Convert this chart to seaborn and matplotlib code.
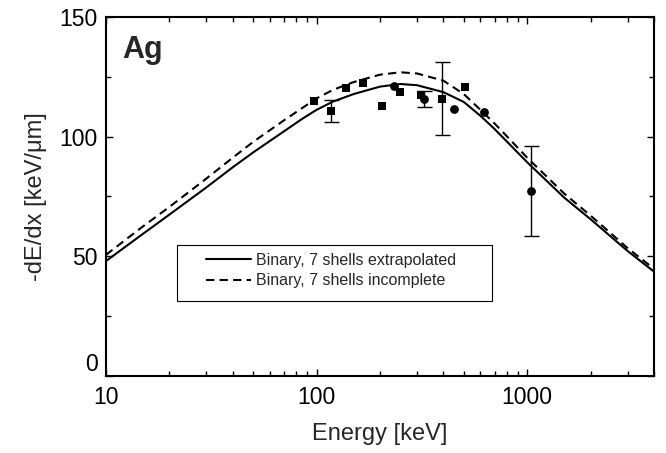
import matplotlib
matplotlib.use("Agg")
import matplotlib.pyplot as plt
import seaborn as sns
import pandas as pd
import numpy as np
from matplotlib.ticker import LogLocator, FixedLocator, NullFormatter
from matplotlib.patches import Rectangle

# Curves (energy keV, stopping power keV/um)
solid_x = [10, 15, 20, 30, 40, 50, 70, 85, 100, 120, 150, 200, 250, 300, 400, 500, 600, 700, 800, 1000, 1500, 2000, 3000, 4000]
solid_y = [48, 59.4, 67.4, 78.8, 87.2, 93.4, 102.2, 107.3, 111.2, 114.7, 117.8, 120.9, 122, 121.5, 118.6, 114.5, 108.7, 103.2, 98, 89.3, 74.5, 65.5, 52.2, 43.6]
dash_x = [10, 15, 20, 30, 40, 50, 70, 85, 100, 120, 150, 200, 250, 300, 400, 500, 600, 700, 800, 1000, 1500, 2000, 3000, 4000]
dash_y = [50.6, 62.5, 70.6, 82.5, 91.2, 97.8, 106.8, 111.8, 116, 119.6, 122.8, 125.9, 126.9, 126.4, 123.4, 117.8, 111.2, 105.5, 100.2, 91.2, 76.2, 67, 53.4, 44.8]

# Experimental data: squares
sq_x = [97, 117, 138, 166, 205, 250, 313, 396, 509]
sq_y = [114.8, 110.7, 120.4, 122.6, 112.8, 118.8, 117.4, 115.9, 120.6]
sq_err = [0, 4.5, 0, 0, 0, 0, 0, 15.2, 0]
# Experimental data: circles
ci_x = [233, 324, 450, 622, 1045]
ci_y = [121.2, 115.6, 111.6, 110.2, 77.4]
ci_err = [0, 3.3, 0, 0, 18.8]

labels = ["Binary, 7 shells extrapolated", "Binary, 7 shells incomplete"]

sns.set_theme(style="ticks")
plt.rcParams['font.family'] = ['Liberation Sans', 'DejaVu Sans']

fig = plt.figure(figsize=(6.66, 4.53), dpi=100)
ax = fig.add_axes([0.159, 0.170, 0.823, 0.7925])

curves = pd.concat([
    pd.DataFrame({"E": solid_x, "S": solid_y, "model": labels[0]}),
    pd.DataFrame({"E": dash_x, "S": dash_y, "model": labels[1]}),
])
sns.lineplot(data=curves, x="E", y="S", style="model", hue="model",
             palette=["black", "black"], dashes=[(), (4, 2.5)], lw=1.5,
             ax=ax, sort=False)

sq = pd.DataFrame({"E": sq_x, "S": sq_y, "err": sq_err})
ci = pd.DataFrame({"E": ci_x, "S": ci_y, "err": ci_err})
for df in (sq, ci):
    e = df[df.err > 0]
    ax.errorbar(e.E, e.S, yerr=e.err, fmt="none", ecolor="black",
                elinewidth=1, capsize=5.4, capthick=1)
sns.scatterplot(data=sq, x="E", y="S", marker="s", s=36, color="black",
                edgecolor="black", linewidth=0, ax=ax, legend=False, zorder=5)
sns.scatterplot(data=ci, x="E", y="S", marker="o", s=40, color="black",
                edgecolor="black", linewidth=0, ax=ax, legend=False, zorder=5)

ax.set_xscale("log")
ax.set_xlim(10, 4000)
ax.set_ylim(0, 150)
ax.set_xticks([10, 100, 1000])
ax.set_xticklabels(["10", "100", "1000"])
ax.xaxis.set_minor_locator(LogLocator(base=10, subs=np.arange(2, 10)))
ax.xaxis.set_minor_formatter(NullFormatter())
ax.set_yticks([0, 50, 100, 150])
ax.yaxis.set_minor_locator(FixedLocator([25, 75, 125]))

for s in ax.spines.values():
    s.set_visible(True)
    s.set_linewidth(1.5)
    s.set_color("black")
ax.tick_params(which="both", direction="in", top=True, right=True,
               colors="black", labelsize=16.5, width=1)
ax.tick_params(which="major", length=5)
ax.tick_params(which="minor", length=3.3)
ax.tick_params(axis="x", pad=7)
ax.tick_params(axis="y", pad=6)

ax.set_xlabel("Energy [keV]", fontsize=17, labelpad=10)
ax.set_ylabel("-dE/dx [keV/\u03bcm]", fontsize=17, labelpad=9)

ax.text(0.03, 0.95, "Ag", transform=ax.transAxes, fontsize=22,
        fontweight="bold", va="top", ha="left")

# legend frame and entries
ax.add_patch(Rectangle((0.1296, 0.2089), 0.5748, 0.156, transform=ax.transAxes,
                       fill=True, facecolor="white", edgecolor="black",
                       linewidth=0.8, zorder=6))
handles, labs = ax.get_legend_handles_labels()
leg = ax.legend(handles, labs, loc="upper left",
                bbox_to_anchor=(0.183, 0.343), borderaxespad=0, borderpad=0,
                fontsize=11.5, frameon=False, handlelength=2.8,
                handletextpad=0.3, labelspacing=0.35)
leg.set_zorder(7)

# lift the "0" label above the corner like the reference
fig.canvas.draw()
ax.yaxis.get_major_ticks()[0].label1.set_verticalalignment("bottom")

fig.savefig("out.png", dpi=100)
